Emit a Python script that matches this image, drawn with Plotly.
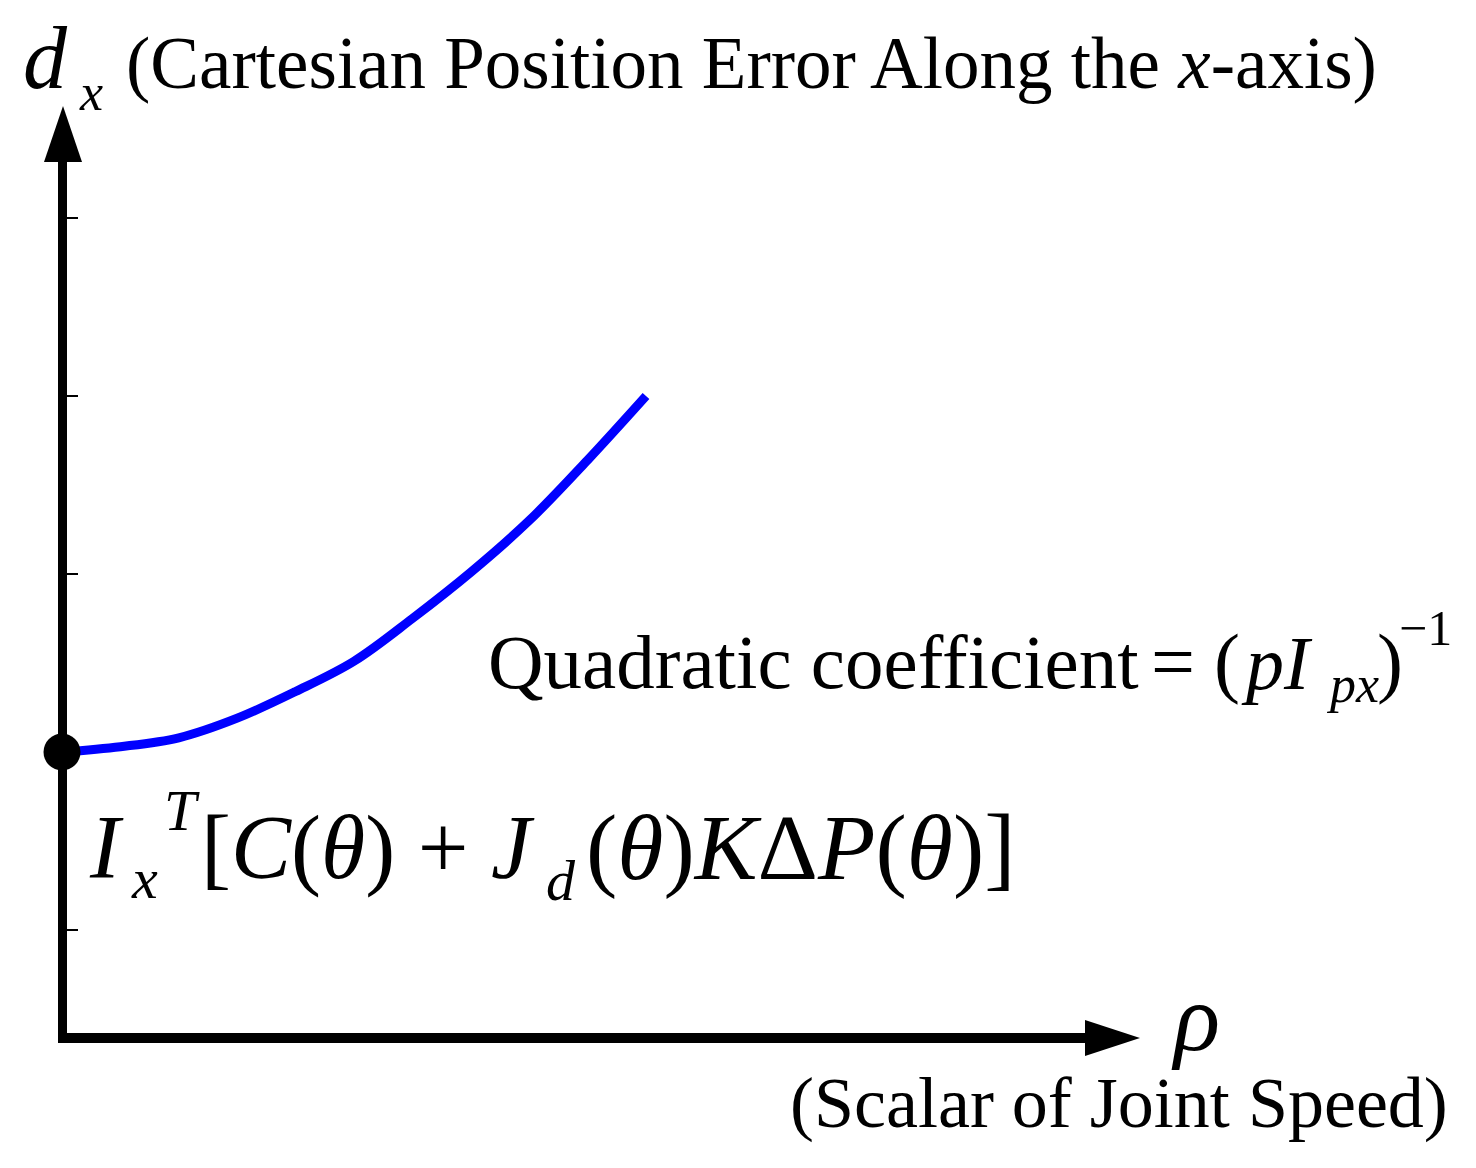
import plotly.graph_objects as go

W, H = 1476, 1168

# curve (rho scaled so the curve ends at 1)
rho = [0.0, 0.1, 0.2, 0.3, 0.4, 0.5, 0.6, 0.7, 0.8, 0.9, 1.0]
d_x = [2.00, 2.03, 2.08, 2.19, 2.34, 2.51, 2.75, 3.01, 3.30, 3.64, 4.00]
start_rho = [0.0]
start_d = [2.0]
ytick_vals = [1, 2, 3, 4, 5]

FONT = "Liberation Serif, Times New Roman, serif"

# plot box in pixels; vertical axis is the rho=0 zero line (centre at 62px),
# horizontal axis is the x axis line drawn just below the box
L, B, T, R = 58, 1033, 135, 1110
x_range = [(L - 62) / 584, (R - 62) / 584]
y_range = [1 - (B - 930) / 178, 1 + (930 - T) / 178]


def paper(x, y):
    # pixel position -> paper coords (paper is the plot box in plotly)
    return (x - L) / (R - L), (B - y) / (B - T)


def text(s, x, base, size):
    px_, py_ = paper(x, base - 0.335 * size)
    return dict(text=s, x=px_, y=py_, xref="paper", yref="paper",
                xanchor="left", yanchor="middle", showarrow=False,
                borderpad=0, font=dict(family=FONT, size=size, color="black"))


fig = go.Figure()
fig.add_trace(go.Scatter(x=rho, y=d_x, mode="lines",
                         line=dict(color="#0000ff", width=9, shape="spline"),
                         cliponaxis=False, hoverinfo="skip"))
fig.add_trace(go.Scatter(x=start_rho, y=start_d, mode="markers",
                         marker=dict(color="black", size=37),
                         cliponaxis=False, hoverinfo="skip"))

annotations = [
    text("<i>d</i>", 22, 88, 88),
    text("<i>x</i>", 78, 110, 52),
    text("(Cartesian Position Error Along the <i>x</i>-axis)", 125, 88, 73),
    text("Quadratic coefficient", 487, 688, 77),
    text("=", 1150, 688, 78),
    text("(", 1213, 688, 78),
    text("<i>pI</i>", 1240, 688, 76),
    text("<i>px</i>", 1325, 702, 52),
    text(")", 1376, 688, 78),
    text("\u22121", 1398, 645, 50),
    text("<i>I</i>", 88, 878, 90),
    text("<i>x</i>", 130, 898, 58),
    text("<i>T</i>", 163, 830, 58),
    text("[<i>C</i>(<i>\u03b8</i>) + <i>J</i>", 200, 878, 90),
    text("<i>d</i>", 545, 900, 58),
    text("(<i>\u03b8</i>)<i>K</i>\u0394<i>P</i>(<i>\u03b8</i>)]", 585, 878, 94),
    text("<i>\u03c1</i>", 1170, 1050, 96),
    text("(Scalar of Joint Speed)", 789, 1127, 72),
]

# filled arrow heads at the ends of the two axes
x0, y0 = paper(44, 162)
x1, y1 = paper(63, 106)
x2, y2 = paper(82, 162)
xa, ya = paper(1085, 1020)
xb, yb = paper(1140, 1038)
xc, yc = paper(1085, 1056)
shapes = [
    dict(type="path", xref="paper", yref="paper",
         path=f"M{x0},{y0} L{x1},{y1} L{x2},{y2} Z",
         fillcolor="black", line=dict(width=0)),
    dict(type="path", xref="paper", yref="paper",
         path=f"M{xa},{ya} L{xb},{yb} L{xc},{yc} Z",
         fillcolor="black", line=dict(width=0)),
]

fig.update_layout(
    width=W, height=H,
    margin=dict(l=L, r=W - R, t=T, b=H - B),
    paper_bgcolor="white", plot_bgcolor="white",
    showlegend=False,
    annotations=annotations,
    shapes=shapes,
    xaxis=dict(range=x_range, showline=True, linecolor="black", linewidth=10,
               showgrid=False, zeroline=True, zerolinecolor="black",
               zerolinewidth=9, showticklabels=False, ticks=""),
    yaxis=dict(range=y_range, showline=False,
               showgrid=False, zeroline=False, showticklabels=False,
               tickvals=ytick_vals, ticks="inside", ticklen=20, tickwidth=2,
               tickcolor="black"),
)

# drop the default page margin so the figure sits at the window corner
fig.write_html("out.html", config={"displayModeBar": False},
               post_script="document.body.style.margin='0';")
